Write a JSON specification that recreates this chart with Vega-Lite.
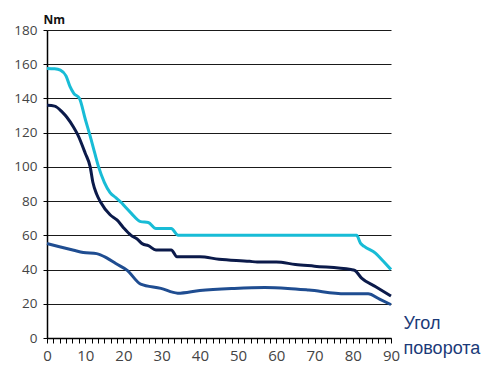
{
  "$schema": "https://vega.github.io/schema/vega-lite/v6.json",
  "autosize": {"type": "none"},
  "width": 344,
  "height": 308,
  "padding": {"left": 47, "top": 30, "right": 96, "bottom": 27},
  "background": "white",
  "config": {"view": {"stroke": null}},
  "data": {"values": [
    {"s": "c", "x": 0, "y": 157.5}, {"s": "c", "x": 2, "y": 157.3}, {"s": "c", "x": 3.5, "y": 156.5},
    {"s": "c", "x": 5, "y": 153}, {"s": "c", "x": 6, "y": 147}, {"s": "c", "x": 7, "y": 143},
    {"s": "c", "x": 8.5, "y": 140}, {"s": "c", "x": 10, "y": 128}, {"s": "c", "x": 11.3, "y": 118},
    {"s": "c", "x": 12.5, "y": 108}, {"s": "c", "x": 13.5, "y": 100}, {"s": "c", "x": 15, "y": 91},
    {"s": "c", "x": 16.5, "y": 85}, {"s": "c", "x": 18, "y": 82}, {"s": "c", "x": 19.5, "y": 79},
    {"s": "c", "x": 20.5, "y": 76.5}, {"s": "c", "x": 22, "y": 73}, {"s": "c", "x": 24.5, "y": 68},
    {"s": "c", "x": 26.5, "y": 67.5}, {"s": "c", "x": 28.5, "y": 64}, {"s": "c", "x": 32.5, "y": 64},
    {"s": "c", "x": 34.3, "y": 60}, {"s": "c", "x": 81, "y": 60}, {"s": "c", "x": 82, "y": 55.5},
    {"s": "c", "x": 83, "y": 53.5}, {"s": "c", "x": 86, "y": 49.5}, {"s": "c", "x": 88, "y": 44.8}, {"s": "c", "x": 90, "y": 40},
    {"s": "n", "x": 0, "y": 136}, {"s": "n", "x": 2, "y": 135.5}, {"s": "n", "x": 4, "y": 132},
    {"s": "n", "x": 5.2, "y": 129}, {"s": "n", "x": 7, "y": 123}, {"s": "n", "x": 8, "y": 119},
    {"s": "n", "x": 10, "y": 108}, {"s": "n", "x": 11.3, "y": 100}, {"s": "n", "x": 12, "y": 91},
    {"s": "n", "x": 13, "y": 84}, {"s": "n", "x": 14, "y": 79.5}, {"s": "n", "x": 16.5, "y": 72},
    {"s": "n", "x": 18.3, "y": 69}, {"s": "n", "x": 20, "y": 64.5}, {"s": "n", "x": 22, "y": 60},
    {"s": "n", "x": 23.5, "y": 58}, {"s": "n", "x": 25, "y": 55}, {"s": "n", "x": 26.5, "y": 54},
    {"s": "n", "x": 28.5, "y": 51.5}, {"s": "n", "x": 32.5, "y": 51.5}, {"s": "n", "x": 34, "y": 47.5},
    {"s": "n", "x": 40, "y": 47.5}, {"s": "n", "x": 45, "y": 46}, {"s": "n", "x": 53, "y": 44.8},
    {"s": "n", "x": 55, "y": 44.4}, {"s": "n", "x": 60, "y": 44.4}, {"s": "n", "x": 65, "y": 43},
    {"s": "n", "x": 70, "y": 42}, {"s": "n", "x": 79.5, "y": 40}, {"s": "n", "x": 80.5, "y": 39.5},
    {"s": "n", "x": 82.3, "y": 35}, {"s": "n", "x": 86, "y": 30}, {"s": "n", "x": 90, "y": 24.5},
    {"s": "b", "x": 0, "y": 55.2}, {"s": "b", "x": 3, "y": 53.5}, {"s": "b", "x": 7, "y": 51.3},
    {"s": "b", "x": 9.5, "y": 50}, {"s": "b", "x": 13, "y": 49.3}, {"s": "b", "x": 15.5, "y": 47},
    {"s": "b", "x": 18, "y": 43.5}, {"s": "b", "x": 21, "y": 39.5}, {"s": "b", "x": 24.5, "y": 31.5},
    {"s": "b", "x": 29.8, "y": 29}, {"s": "b", "x": 34.2, "y": 26.2}, {"s": "b", "x": 40, "y": 27.8},
    {"s": "b", "x": 49, "y": 29}, {"s": "b", "x": 57, "y": 29.5}, {"s": "b", "x": 63, "y": 29},
    {"s": "b", "x": 68.5, "y": 28}, {"s": "b", "x": 78, "y": 25.8}, {"s": "b", "x": 84, "y": 25.8},
    {"s": "b", "x": 87, "y": 22.7}, {"s": "b", "x": 90, "y": 19.5}
  ]},
  "mark": {"type": "line", "strokeWidth": 3, "interpolate": "monotone", "clip": false},
  "encoding": {
    "x": {
      "field": "x", "type": "quantitative",
      "scale": {"domain": [0, 90], "nice": false, "zero": false},
      "axis": {
        "values": [0, 1.6667, 3.3333, 5, 6.6667, 8.3333, 10, 11.6667, 13.3333, 15, 16.6667, 18.3333, 20, 21.6667, 23.3333, 25, 26.6667, 28.3333, 30, 31.6667, 33.3333, 35, 36.6667, 38.3333, 40, 41.6667, 43.3333, 45, 46.6667, 48.3333, 50, 51.6667, 53.3333, 55, 56.6667, 58.3333, 60, 61.6667, 63.3333, 65, 66.6667, 68.3333, 70, 71.6667, 73.3333, 75, 76.6667, 78.3333, 80, 81.6667, 83.3333, 85, 86.6667, 88.3333, 90],
        "labelExpr": "datum.value % 10 === 0 ? datum.label : ''",
        "labelOverlap": false,
        "labelFlush": false,
        "grid": false,
        "domainColor": "#000000",
        "domainWidth": 1.5,
        "tickColor": "#000000",
        "tickSize": 5,
        "tickWidth": 1,
        "labelFont": "Open Sans",
        "labelFontSize": 15,
        "labelColor": "#444444",
        "labelPadding": 5,
        "title": ["Угол", "поворота"],
        "titleFont": "Liberation Sans",
        "titleFontSize": 18,
        "titleFontWeight": "normal",
        "titleColor": "#1b3a78",
        "titleAlign": "left",
        "titleBaseline": "alphabetic",
        "titleLineHeight": 25,
        "titleAnchor": null,
        "titleX": 356,
        "titleY": -10
      }
    },
    "y": {
      "field": "y", "type": "quantitative",
      "scale": {"domain": [0, 180], "nice": false},
      "axis": {
        "values": [0, 20, 40, 60, 80, 100, 120, 140, 160, 180],
        "grid": true,
        "gridColor": "#1a1a1a",
        "gridWidth": 1,
        "domainColor": "#000000",
        "domainWidth": 1.5,
        "tickColor": "#000000",
        "tickSize": 4,
        "labelFont": "Open Sans",
        "labelFontSize": 13.5,
        "labelColor": "#444444",
        "labelPadding": 6,
        "title": "Nm",
        "titleAngle": 0,
        "titleFont": "Open Sans",
        "titleFontSize": 12,
        "titleFontWeight": "bold",
        "titleColor": "#111111",
        "titleAlign": "left",
        "titleBaseline": "alphabetic",
        "titleAnchor": null,
        "titleX": -4,
        "titleY": -7
      }
    },
    "color": {
      "field": "s", "type": "nominal",
      "scale": {"domain": ["c", "n", "b"], "range": ["#18bcd6", "#0b1a4a", "#1f4d91"]},
      "legend": null
    }
  }
}
